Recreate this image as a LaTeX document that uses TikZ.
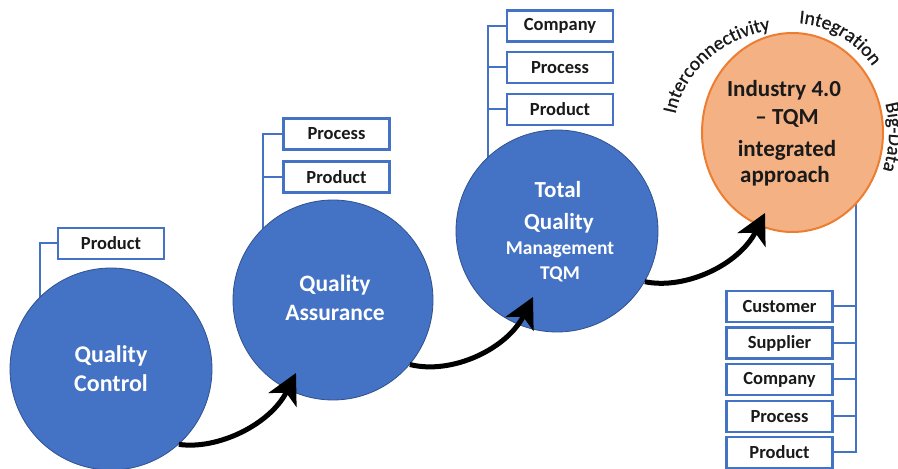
\documentclass[tikz,border=0pt]{standalone}
\usepackage{fontspec}
\setmainfont{Carlito}
\newfontfamily\arcfam{Carlito}[FakeBold=0.8]
\usetikzlibrary{shapes.geometric,arrows.meta,decorations.text,backgrounds,calc}
\definecolor{qblue}{HTML}{4472C4}
\definecolor{qblueedge}{HTML}{2F528F}
\definecolor{qorange}{HTML}{F4B183}
\definecolor{qorangeedge}{HTML}{ED7D31}
\definecolor{qtext}{HTML}{1A1A1A}
\newcommand\arcfont{\arcfam\fontsize{19.5}{19.5}\selectfont}
\tikzset{
 bluecirc/.style={circle, fill=qblue, draw=qblueedge, line width=0.8pt, minimum size=#1, inner sep=0pt},
 listbox/.style={draw=qblue, line width=2.4pt, fill=white, minimum width=106pt, minimum height=31pt, inner sep=0pt, text=qtext, font=\bfseries\fontsize{18.5}{20}\selectfont},
 tree/.style={draw=qblue, line width=2pt},
 cline/.style={anchor=base, text=white, inner sep=0pt, font=\bfseries\fontsize{#1}{#1}\selectfont},
 iline/.style={anchor=base, text=qtext, inner sep=0pt, font=\bfseries\fontsize{23}{23}\selectfont},
 flow/.style={line width=5pt, draw=black, -{Stealth[length=30pt,width=31pt,inset=8pt]}},
 arcword/.style={decorate, decoration={text along path, text align=center, text color=qtext, text={|\arcfont|#1}}},
}
\begin{document}
\begin{tikzpicture}[x=1pt,y=1pt]
\useasboundingbox (0,0) rectangle (898,469);
\clip (0,0) rectangle (898,469);

% list boxes
\node[listbox] (qcp) at (111,225.5) {Product};
\node[listbox] (qa1) at (336.5,335) {Process};
\node[listbox] (qa2) at (336.5,292) {Product};
\node[listbox] (tq1) at (560,443) {Company};
\node[listbox] (tq2) at (560,401.5) {Process};
\node[listbox] (tq3) at (560,359.5) {Product};
\node[listbox] (r1) at (779.5,162.5) {Customer};
\node[listbox] (r2) at (779.5,126) {Supplier};
\node[listbox] (r3) at (779.5,89.5) {Company};
\node[listbox] (r4) at (779.5,52.5) {Process};
\node[listbox] (r5) at (779.5,16.5) {Product};

% circles
\node[bluecirc=202pt] (qc) at (111,100) {};
\node[bluecirc=200pt] (qa) at (333,169) {};
\node[bluecirc=202pt] (tqm) at (557,238) {};
\node[ellipse, fill=qorange, draw=qorangeedge, line width=2pt, minimum width=181pt, minimum height=199pt, inner sep=0pt] (ind) at (792.5,336.5) {};

% circle texts
\node[cline=24] (qcl1) at (111,106) {Quality};
\node[cline=24] (qcl2) at (111,77) {Control};
\node[cline=23.5] (qal1) at (335,177) {Quality};
\node[cline=23.5] (qal2) at (335,148) {Assurance};
\node[cline=23] (tql1) at (558,271) {Total};
\node[cline=23] (tql2) at (559,239) {Quality};
\node[cline=19.5] (tql3) at (560,214) {Management};
\node[cline=19.5] (tql4) at (560,189) {TQM};
\node[iline] (inl1) at (784,372) {Industry 4.0};
\node[iline] (inl2) at (787,344) {– TQM};
\node[iline] (inl3) at (787,312) {integrated};
\node[iline] (inl4) at (785,286) {approach};

% curved words
\path[arcword=Interconnectivity] ($(ind.center)+(182:119 and 104.4)$) arc[start angle=182, end angle=90, x radius=119, y radius=104.4];
\path[arcword=Integration] ($(ind.center)+(95:100.5 and 109.5)$) arc[start angle=95, end angle=29, x radius=100.5, y radius=109.5];
\path[arcword=Big-Data] ($(ind.center)+(25:96.5 and 105.5)$) arc[start angle=25, end angle=-30, x radius=96.5, y radius=105.5];

% tree connectors
\begin{pgfonlayer}{background}
\fill[white] (0,0) rectangle (898,469);
\draw[tree] (qcp.west) -- ++(-17,0) coordinate (qcv) -- (qcv |- qc.center);
\draw[tree] (qa1.west) -- ++(-19,0) coordinate (qav) -- (qav |- qa.center);
\draw[tree] (qa2.west) -- (qa2.west -| qav);
\draw[tree] (tq1.west) -- ++(-18,0) coordinate (tqv) -- (tqv |- tqm.center);
\draw[tree] (tq2.west) -- (tq2.west -| tqv);
\draw[tree] (tq3.west) -- (tq3.west -| tqv);
\draw[tree] (r5.east) -- ++(22,0) coordinate (rv) -- (rv |- ind.center);
\foreach \b in {r1,r2,r3,r4} \draw[tree] (\b.east) -- (\b.east -| rv);
\end{pgfonlayer}

% flow arrows
\coordinate (t1) at (296,96);
\coordinate (t2) at (533,172);
\coordinate (t3) at (765,256);
\draw[flow] (qc.-48) .. controls (217,19) and (270,44) .. (t1);
\draw[flow] (qa.-40) .. controls (452,94) and (507,120) .. (t2);
\draw[flow] (tqm.-30) .. controls (685,179) and (739,204) .. (t3);
\end{tikzpicture}
\end{document}
